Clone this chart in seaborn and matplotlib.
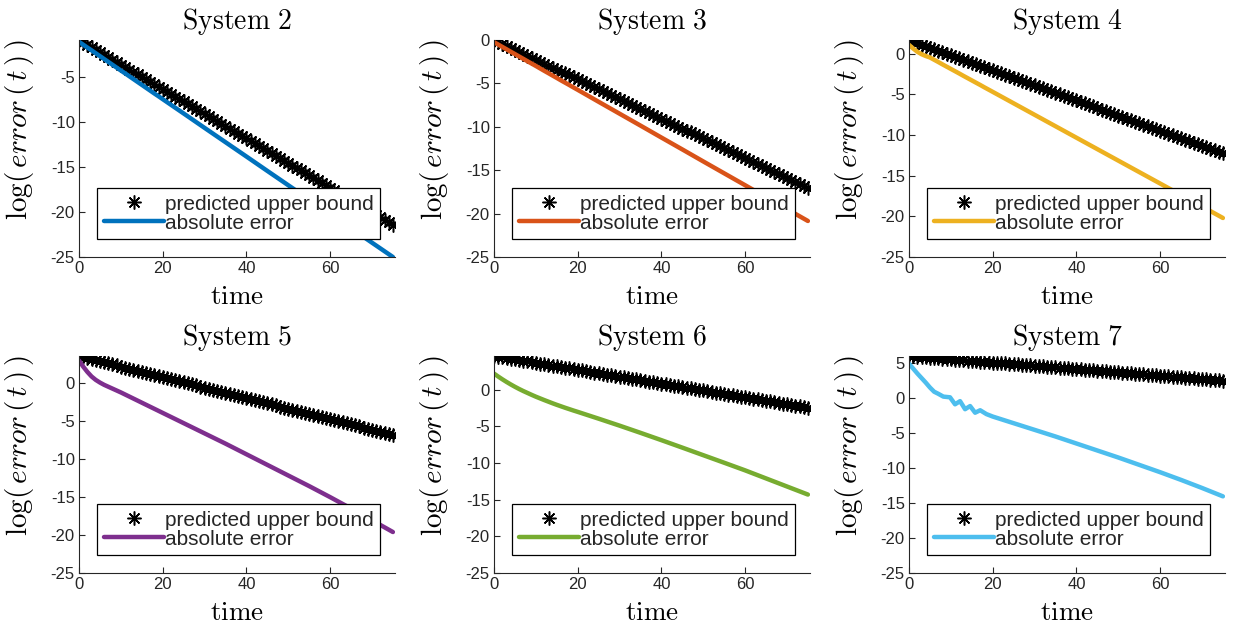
import matplotlib
matplotlib.use("Agg")
import matplotlib.pyplot as plt
import seaborn as sns
from matplotlib.lines import Line2D
from matplotlib.ticker import MultipleLocator

# ---------------- data ----------------
TITLES = ["System 2", "System 3", "System 4", "System 5", "System 6", "System 7"]
LEGEND_LABELS = ["predicted upper bound", "absolute error"]

T_BOUND = list(range(76))

BOUND_S2 = [-0.90, -1.17, -1.45, -1.72, -1.99, -2.27, -2.54, -2.81, -3.09, -3.36,
            -3.63, -3.91, -4.18, -4.45, -4.73, -5.00, -5.27, -5.55, -5.82, -6.09,
            -6.37, -6.64, -6.91, -7.19, -7.46, -7.73, -8.01, -8.28, -8.55, -8.83,
            -9.10, -9.37, -9.65, -9.92, -10.19, -10.47, -10.74, -11.01, -11.29, -11.56,
            -11.83, -12.11, -12.38, -12.65, -12.93, -13.20, -13.47, -13.75, -14.02, -14.29,
            -14.57, -14.84, -15.11, -15.39, -15.66, -15.93, -16.21, -16.48, -16.75, -17.03,
            -17.30, -17.57, -17.85, -18.12, -18.39, -18.67, -18.94, -19.21, -19.49, -19.76,
            -20.03, -20.31, -20.58, -20.85, -21.13, -21.40]
BOUND_S3 = [0.00, -0.23, -0.45, -0.68, -0.91, -1.13, -1.36, -1.59, -1.81, -2.04,
            -2.27, -2.49, -2.72, -2.95, -3.17, -3.40, -3.63, -3.85, -4.08, -4.31,
            -4.53, -4.76, -4.99, -5.21, -5.44, -5.67, -5.89, -6.12, -6.35, -6.57,
            -6.80, -7.03, -7.25, -7.48, -7.71, -7.93, -8.16, -8.39, -8.61, -8.84,
            -9.07, -9.29, -9.52, -9.75, -9.97, -10.20, -10.43, -10.65, -10.88, -11.11,
            -11.33, -11.56, -11.79, -12.01, -12.24, -12.47, -12.69, -12.92, -13.15, -13.37,
            -13.60, -13.83, -14.05, -14.28, -14.51, -14.73, -14.96, -15.19, -15.41, -15.64,
            -15.87, -16.09, -16.32, -16.55, -16.77, -17.00]
BOUND_S4 = [1.70, 1.51, 1.33, 1.14, 0.96, 0.77, 0.58, 0.40, 0.21, 0.03,
            -0.16, -0.35, -0.53, -0.72, -0.90, -1.09, -1.28, -1.46, -1.65, -1.83,
            -2.02, -2.21, -2.39, -2.58, -2.76, -2.95, -3.14, -3.32, -3.51, -3.69,
            -3.88, -4.07, -4.25, -4.44, -4.62, -4.81, -5.00, -5.18, -5.37, -5.55,
            -5.74, -5.93, -6.11, -6.30, -6.48, -6.67, -6.86, -7.04, -7.23, -7.41,
            -7.60, -7.79, -7.97, -8.16, -8.34, -8.53, -8.72, -8.90, -9.09, -9.27,
            -9.46, -9.65, -9.83, -10.02, -10.20, -10.39, -10.58, -10.76, -10.95, -11.13,
            -11.32, -11.51, -11.69, -11.88, -12.06, -12.25]
BOUND_S5 = [3.60, 3.46, 3.32, 3.18, 3.05, 2.91, 2.77, 2.63, 2.49, 2.35,
            2.21, 2.07, 1.94, 1.80, 1.66, 1.52, 1.38, 1.24, 1.10, 0.97,
            0.83, 0.69, 0.55, 0.41, 0.27, 0.13, -0.01, -0.14, -0.28, -0.42,
            -0.56, -0.70, -0.84, -0.98, -1.11, -1.25, -1.39, -1.53, -1.67, -1.81,
            -1.95, -2.09, -2.22, -2.36, -2.50, -2.64, -2.78, -2.92, -3.06, -3.19,
            -3.33, -3.47, -3.61, -3.75, -3.89, -4.03, -4.17, -4.30, -4.44, -4.58,
            -4.72, -4.86, -5.00, -5.14, -5.27, -5.41, -5.55, -5.69, -5.83, -5.97,
            -6.11, -6.25, -6.38, -6.52, -6.66, -6.80]
BOUND_S6 = [4.60, 4.51, 4.41, 4.32, 4.22, 4.13, 4.04, 3.94, 3.85, 3.75,
            3.66, 3.57, 3.47, 3.38, 3.28, 3.19, 3.10, 3.00, 2.91, 2.81,
            2.72, 2.63, 2.53, 2.44, 2.34, 2.25, 2.16, 2.06, 1.97, 1.87,
            1.78, 1.69, 1.59, 1.50, 1.40, 1.31, 1.22, 1.12, 1.03, 0.93,
            0.84, 0.75, 0.65, 0.56, 0.46, 0.37, 0.28, 0.18, 0.09, -0.01,
            -0.10, -0.19, -0.29, -0.38, -0.48, -0.57, -0.66, -0.76, -0.85, -0.95,
            -1.04, -1.13, -1.23, -1.32, -1.42, -1.51, -1.60, -1.70, -1.79, -1.89,
            -1.98, -2.07, -2.17, -2.26, -2.36, -2.45]
BOUND_S7 = [6.00, 5.95, 5.91, 5.86, 5.81, 5.77, 5.72, 5.67, 5.63, 5.58,
            5.53, 5.49, 5.44, 5.39, 5.35, 5.30, 5.25, 5.21, 5.16, 5.11,
            5.07, 5.02, 4.97, 4.93, 4.88, 4.83, 4.79, 4.74, 4.69, 4.65,
            4.60, 4.55, 4.51, 4.46, 4.41, 4.37, 4.32, 4.27, 4.23, 4.18,
            4.13, 4.09, 4.04, 3.99, 3.95, 3.90, 3.85, 3.81, 3.76, 3.71,
            3.67, 3.62, 3.57, 3.53, 3.48, 3.43, 3.39, 3.34, 3.29, 3.25,
            3.20, 3.15, 3.11, 3.06, 3.01, 2.97, 2.92, 2.87, 2.83, 2.78,
            2.73, 2.69, 2.64, 2.59, 2.55, 2.50]

T_ERR = [0, 1, 2, 3, 4, 5, 6, 7, 8, 9, 10, 11, 12, 13, 14, 15, 16, 17, 18, 19, 20,
         25, 30, 35, 40, 45, 50, 55, 60, 65, 70, 75]
ERR_S2 = [-1.10, -1.42, -1.74, -2.05, -2.37, -2.69, -3.01, -3.33, -3.65, -3.97, -4.29,
          -4.60, -4.92, -5.24, -5.56, -5.88, -6.20, -6.52, -6.84, -7.15, -7.47,
          -9.06, -10.66, -12.25, -13.84, -15.44, -17.03, -18.62, -20.22, -21.81, -23.41, -25.00]
ERR_S3 = [-0.25, -0.52, -0.80, -1.07, -1.35, -1.62, -1.90, -2.17, -2.45, -2.72, -2.99,
          -3.27, -3.55, -3.82, -4.10, -4.37, -4.65, -4.92, -5.19, -5.47, -5.74,
          -7.12, -8.49, -9.86, -11.24, -12.61, -13.99, -15.36, -16.73, -18.11, -19.48, -20.85]
ERR_S4 = [1.10, 0.65, 0.25, -0.05, -0.27, -0.45, -0.73, -1.01, -1.30, -1.58, -1.86,
          -2.14, -2.42, -2.71, -2.99, -3.27, -3.55, -3.83, -4.12, -4.40, -4.68,
          -6.09, -7.50, -8.91, -10.32, -11.73, -13.14, -14.55, -15.96, -17.37, -18.78, -20.20]
ERR_S5 = [3.00, 2.20, 1.50, 0.90, 0.45, 0.10, -0.20, -0.45, -0.70, -0.95, -1.20,
          -1.47, -1.74, -2.01, -2.28, -2.55, -2.82, -3.09, -3.36, -3.63, -3.90,
          -5.25, -6.60, -7.95, -9.35, -10.75, -12.15, -13.55, -15.00, -16.50, -18.05, -19.60]
ERR_S6 = [2.20, 1.80, 1.42, 1.06, 0.72, 0.40, 0.10, -0.18, -0.44, -0.70, -0.95,
          -1.18, -1.41, -1.63, -1.85, -2.06, -2.26, -2.46, -2.65, -2.84, -3.02,
          -3.95, -4.90, -5.88, -6.88, -7.90, -8.93, -9.96, -11.00, -12.10, -13.20, -14.30]
T_ERR7 = [0, 1, 2, 3, 4, 5, 6, 7, 8.2, 9.8, 11.0, 12.2, 13.4, 14.6, 15.8, 17.0,
          18.5, 20, 25, 30, 35, 40, 45, 50, 55, 60, 65, 70, 75]
ERR_S7 = [4.90, 4.20, 3.50, 2.85, 2.20, 1.50, 0.90, 0.60, 0.20, 0.10, -0.90, -0.45,
          -1.60, -1.15, -2.10, -1.75, -2.30, -2.65, -3.60, -4.55, -5.50, -6.50,
          -7.50, -8.50, -9.55, -10.60, -11.70, -12.85, -14.05]

BOUNDS = [BOUND_S2, BOUND_S3, BOUND_S4, BOUND_S5, BOUND_S6, BOUND_S7]
ERR_TIMES = [T_ERR, T_ERR, T_ERR, T_ERR, T_ERR, T_ERR7]
ERRORS = [ERR_S2, ERR_S3, ERR_S4, ERR_S5, ERR_S6, ERR_S7]
COLORS = ["#0072BD", "#D95319", "#EDB120", "#7E2F8E", "#77AC30", "#4DBEEE"]

# ---------------- style ----------------
sns.set_style("white")
plt.rcParams["font.family"] = ["Liberation Sans", "DejaVu Sans"]
plt.rcParams["mathtext.fontset"] = "cm"
plt.rcParams["axes.unicode_minus"] = False

W, H = 1239, 627
fig = plt.figure(figsize=(W / 100, H / 100), dpi=100)

col_left = [79, 494, 909]
row_top = [40, 356]
ax_w, ax_h = 316, 217
axis_gray = "#262626"
star = (8, 2, 0)
YLABEL = r"$\log(\,error\,(\,t\,)\,)$"

for i in range(6):
    r, c = divmod(i, 3)
    left = col_left[c] / W
    bottom = (H - row_top[r] - ax_h) / H
    ax = fig.add_axes([left, bottom, ax_w / W, ax_h / H])

    sns.lineplot(x=T_BOUND, y=BOUNDS[i], ax=ax, color="black", marker=star,
                 linestyle="none", markersize=10, markeredgewidth=1.1,
                 markeredgecolor="black", sort=False, estimator=None)
    sns.lineplot(x=ERR_TIMES[i], y=ERRORS[i], ax=ax, color=COLORS[i],
                 linewidth=3.2, sort=False, estimator=None)

    ax.set_xlim(0, 75.5)
    ax.set_ylim(-25, max(BOUNDS[i]))
    ax.xaxis.set_major_locator(MultipleLocator(20))
    ax.yaxis.set_major_locator(MultipleLocator(5))
    for s in ["top", "right"]:
        ax.spines[s].set_visible(False)
    for s in ["left", "bottom"]:
        ax.spines[s].set_color(axis_gray)
        ax.spines[s].set_linewidth(0.8)
    ax.tick_params(axis="both", direction="in", length=4, width=0.8,
                   colors=axis_gray, labelsize=12, pad=3,
                   bottom=True, left=True)

    ax.set_title(r"$\mathrm{" + TITLES[i].replace(" ", r"\ ") + "}$",
                 fontsize=20, pad=8, color="black")
    ax.set_xlabel(r"$\mathrm{time}$", fontsize=19.5, color="black")
    ax.set_ylabel(YLABEL, fontsize=21, color="black")
    ax.xaxis.set_label_coords(0.5, -0.125)
    ax.yaxis.set_label_coords(-0.135, 0.585)

    handles = [
        Line2D([], [], color="black", marker=star, linestyle="none",
               markersize=10, markeredgewidth=1.1),
        Line2D([], [], color=COLORS[i], linewidth=3.2),
    ]
    leg = ax.legend(handles, LEGEND_LABELS, loc="lower right",
                    bbox_to_anchor=(0.953, 0.083), borderaxespad=0,
                    fontsize=15, handlelength=2.9, handletextpad=0.05,
                    labelspacing=0.0, borderpad=0.3, fancybox=False,
                    framealpha=1, edgecolor="black", numpoints=1)
    leg.get_frame().set_linewidth(0.9)

fig.savefig("out.png", dpi=100)
